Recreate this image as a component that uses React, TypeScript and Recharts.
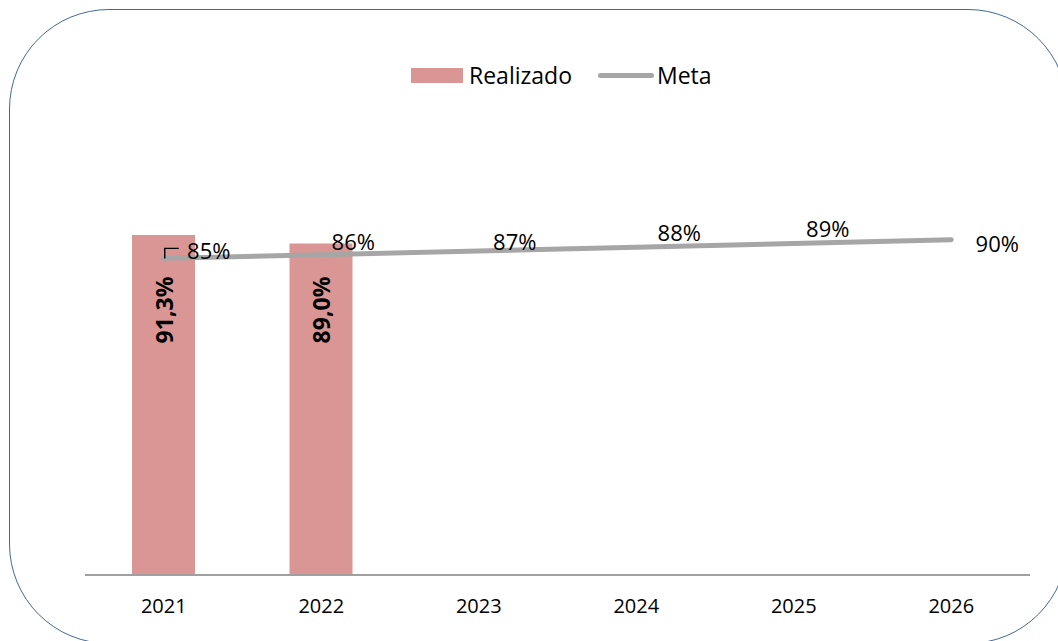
import React from 'react';
import { ComposedChart, Bar, Line, XAxis, YAxis, LabelList, Legend } from 'recharts';

const years = ['2021', '2022', '2023', '2024', '2025', '2026'];
const realizado: (number | null)[] = [91.3, 89.0, null, null, null, null];
const meta = [85, 86, 87, 88, 89, 90];

const data = years.map((y, i) => ({ year: y, realizado: realizado[i], meta: meta[i] }));

const FONT = '"Open Sans", "Noto Sans", sans-serif';
const BAR_COLOR = '#d99694';
const LINE_COLOR = '#a6a6a6';

const metaOffsets = [
  { dx: 45, dy: -8 },
  { dx: 32, dy: -14 },
  { dx: 36, dy: -10 },
  { dx: 43, dy: -15 },
  { dx: 34, dy: -15 },
  { dx: 46, dy: 3 },
];

const MetaLabel = (props: any) => {
  const { x, y, value, index } = props;
  const o = metaOffsets[index] || { dx: 0, dy: -12 };
  return (
    <g>
      {index === 0 && (
        <path d={`M${x + 1},${y} L${x + 1},${y - 10} L${x + 15},${y - 10}`} stroke="#000" strokeWidth={1.4} fill="none" />
      )}
      <text x={x + o.dx} y={y + o.dy} textAnchor="middle" dominantBaseline="central" fontSize={22} fontFamily={FONT} fill="#000">
        {`${value}%`}
      </text>
    </g>
  );
};

const BarLabel = (props: any) => {
  const { x, y, width, height, value } = props;
  if (value == null) return null;
  const cx = x + width / 2;
  const cy = y + height - 265;
  return (
    <text
      x={cx}
      y={cy}
      transform={`rotate(-90 ${cx} ${cy})`}
      textAnchor="middle"
      dominantBaseline="central"
      fontSize={23}
      fontWeight="bold"
      fontFamily={FONT}
      fill="#000"
    >
      {`${Number(value).toFixed(1).replace('.', ',')}%`}
    </text>
  );
};

const LegendContent = () => (
  <div style={{ height: 30, display: 'flex', alignItems: 'center', justifyContent: 'flex-start', paddingLeft: 411, fontFamily: FONT, fontSize: 23, color: '#000' }}>
    <div style={{ display: 'flex', alignItems: 'center' }}>
      <span style={{ display: 'inline-block', width: 52, height: 15, background: BAR_COLOR, marginRight: 6 }} />
      <span>Realizado</span>
    </div>
    <div style={{ display: 'flex', alignItems: 'center', marginLeft: 26 }}>
      <span style={{ display: 'inline-block', width: 56, height: 5, borderRadius: 3, background: LINE_COLOR, marginRight: 3 }} />
      <span>Meta</span>
    </div>
  </div>
);

export default function App() {
  return (
    <div style={{ position: 'absolute', left: 0, top: 0, width: 1058, height: 641, overflow: 'hidden', background: '#fff' }}>
      <div
        style={{
          position: 'absolute',
          left: 9,
          top: 9,
          width: 1059,
          height: 635,
          border: '1.5px solid #41699b',
          borderRadius: 100,
          boxSizing: 'border-box',
        }}
      />
      <div style={{ position: 'absolute', left: 0, top: 0 }}>
        <ComposedChart
          width={1058}
          height={641}
          data={data}
          margin={{ top: 172.5, right: 28, bottom: 0, left: 85 }}
        >
          <Legend
            verticalAlign="top"
            content={<LegendContent />}
            wrapperStyle={{ top: 60, left: 0, width: 1058 }}
          />
          <XAxis
            dataKey="year"
            axisLine={{ stroke: '#a0a0a0', strokeWidth: 2 }}
            tickLine={false}
            tickSize={0}
            tickMargin={24}
            height={66}
            tick={{ fontSize: 20, fontFamily: FONT, fill: '#000' }}
          />
          <YAxis hide domain={[0, 100]} />
          <Bar dataKey="realizado" fill={BAR_COLOR} barSize={63} isAnimationActive={false}>
            <LabelList dataKey="realizado" content={<BarLabel />} />
          </Bar>
          <Line
            dataKey="meta"
            stroke={LINE_COLOR}
            strokeWidth={5}
            strokeLinecap="round"
            dot={false}
            activeDot={false}
            isAnimationActive={false}
          >
            <LabelList dataKey="meta" content={<MetaLabel />} />
          </Line>
        </ComposedChart>
      </div>
    </div>
  );
}
